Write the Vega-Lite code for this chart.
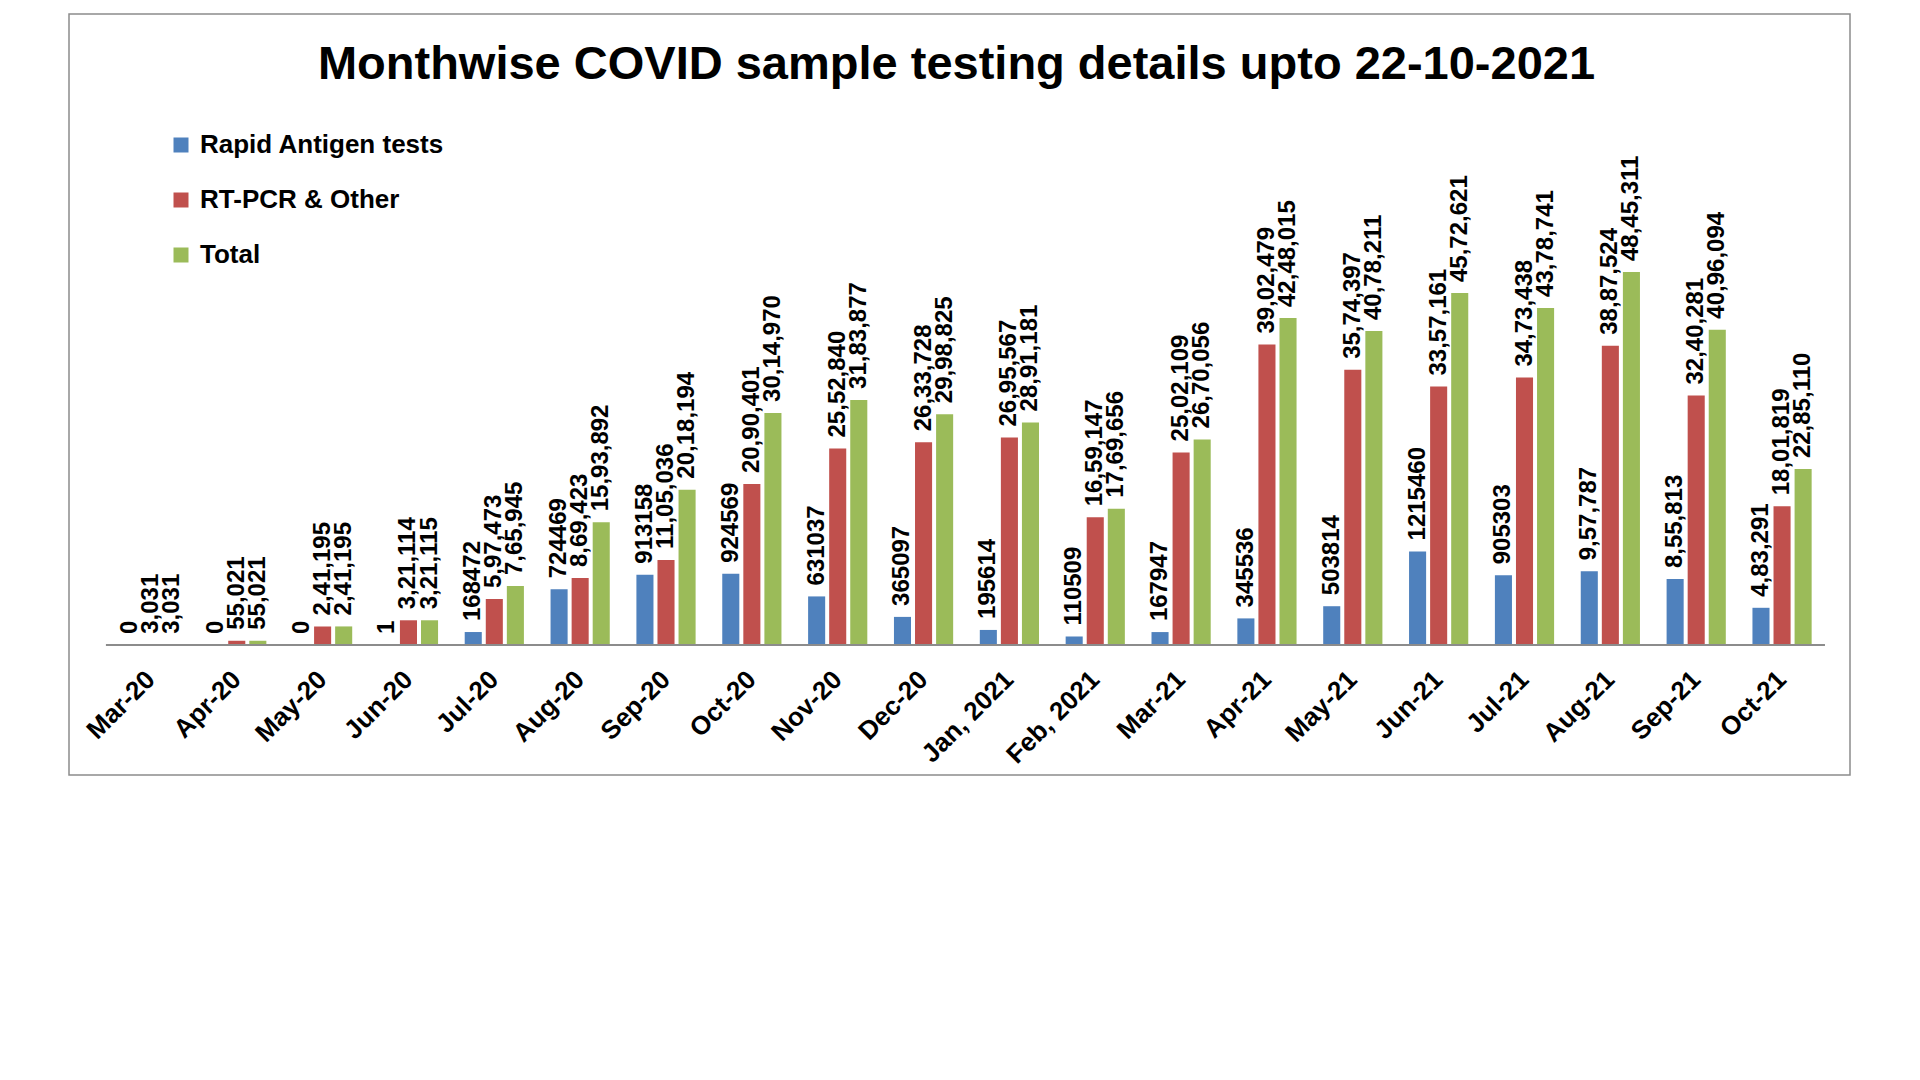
{
  "$schema": "https://vega.github.io/schema/vega-lite/v6.json",
  "width": 1781,
  "height": 761,
  "autosize": {"type": "none"},
  "padding": {"left": 69, "top": 14, "right": 70, "bottom": 305},
  "background": "white",
  "config": {"view": {"stroke": "#8c8c8c", "strokeWidth": 1.5}, "font": "Liberation Sans"},
  "title": {"text": "Monthwise COVID sample testing details upto 22-10-2021", "font": "Liberation Sans", "fontSize": 47, "fontWeight": "bold", "color": "#000000", "anchor": "middle", "frame": "group", "offset": -75, "dx": -3},
  "data": {"values": [
    {"month": "Mar-20", "series": "Rapid Antigen tests", "value": 0, "label": "0"},
    {"month": "Mar-20", "series": "RT-PCR & Other", "value": 3031, "label": "3,031"},
    {"month": "Mar-20", "series": "Total", "value": 3031, "label": "3,031"},
    {"month": "Apr-20", "series": "Rapid Antigen tests", "value": 0, "label": "0"},
    {"month": "Apr-20", "series": "RT-PCR & Other", "value": 55021, "label": "55,021"},
    {"month": "Apr-20", "series": "Total", "value": 55021, "label": "55,021"},
    {"month": "May-20", "series": "Rapid Antigen tests", "value": 0, "label": "0"},
    {"month": "May-20", "series": "RT-PCR & Other", "value": 241195, "label": "2,41,195"},
    {"month": "May-20", "series": "Total", "value": 241195, "label": "2,41,195"},
    {"month": "Jun-20", "series": "Rapid Antigen tests", "value": 1, "label": "1"},
    {"month": "Jun-20", "series": "RT-PCR & Other", "value": 321114, "label": "3,21,114"},
    {"month": "Jun-20", "series": "Total", "value": 321115, "label": "3,21,115"},
    {"month": "Jul-20", "series": "Rapid Antigen tests", "value": 168472, "label": "168472"},
    {"month": "Jul-20", "series": "RT-PCR & Other", "value": 597473, "label": "5,97,473"},
    {"month": "Jul-20", "series": "Total", "value": 765945, "label": "7,65,945"},
    {"month": "Aug-20", "series": "Rapid Antigen tests", "value": 724469, "label": "724469"},
    {"month": "Aug-20", "series": "RT-PCR & Other", "value": 869423, "label": "8,69,423"},
    {"month": "Aug-20", "series": "Total", "value": 1593892, "label": "15,93,892"},
    {"month": "Sep-20", "series": "Rapid Antigen tests", "value": 913158, "label": "913158"},
    {"month": "Sep-20", "series": "RT-PCR & Other", "value": 1105036, "label": "11,05,036"},
    {"month": "Sep-20", "series": "Total", "value": 2018194, "label": "20,18,194"},
    {"month": "Oct-20", "series": "Rapid Antigen tests", "value": 924569, "label": "924569"},
    {"month": "Oct-20", "series": "RT-PCR & Other", "value": 2090401, "label": "20,90,401"},
    {"month": "Oct-20", "series": "Total", "value": 3014970, "label": "30,14,970"},
    {"month": "Nov-20", "series": "Rapid Antigen tests", "value": 631037, "label": "631037"},
    {"month": "Nov-20", "series": "RT-PCR & Other", "value": 2552840, "label": "25,52,840"},
    {"month": "Nov-20", "series": "Total", "value": 3183877, "label": "31,83,877"},
    {"month": "Dec-20", "series": "Rapid Antigen tests", "value": 365097, "label": "365097"},
    {"month": "Dec-20", "series": "RT-PCR & Other", "value": 2633728, "label": "26,33,728"},
    {"month": "Dec-20", "series": "Total", "value": 2998825, "label": "29,98,825"},
    {"month": "Jan, 2021", "series": "Rapid Antigen tests", "value": 195614, "label": "195614"},
    {"month": "Jan, 2021", "series": "RT-PCR & Other", "value": 2695567, "label": "26,95,567"},
    {"month": "Jan, 2021", "series": "Total", "value": 2891181, "label": "28,91,181"},
    {"month": "Feb, 2021", "series": "Rapid Antigen tests", "value": 110509, "label": "110509"},
    {"month": "Feb, 2021", "series": "RT-PCR & Other", "value": 1659147, "label": "16,59,147"},
    {"month": "Feb, 2021", "series": "Total", "value": 1769656, "label": "17,69,656"},
    {"month": "Mar-21", "series": "Rapid Antigen tests", "value": 167947, "label": "167947"},
    {"month": "Mar-21", "series": "RT-PCR & Other", "value": 2502109, "label": "25,02,109"},
    {"month": "Mar-21", "series": "Total", "value": 2670056, "label": "26,70,056"},
    {"month": "Apr-21", "series": "Rapid Antigen tests", "value": 345536, "label": "345536"},
    {"month": "Apr-21", "series": "RT-PCR & Other", "value": 3902479, "label": "39,02,479"},
    {"month": "Apr-21", "series": "Total", "value": 4248015, "label": "42,48,015"},
    {"month": "May-21", "series": "Rapid Antigen tests", "value": 503814, "label": "503814"},
    {"month": "May-21", "series": "RT-PCR & Other", "value": 3574397, "label": "35,74,397"},
    {"month": "May-21", "series": "Total", "value": 4078211, "label": "40,78,211"},
    {"month": "Jun-21", "series": "Rapid Antigen tests", "value": 1215460, "label": "1215460"},
    {"month": "Jun-21", "series": "RT-PCR & Other", "value": 3357161, "label": "33,57,161"},
    {"month": "Jun-21", "series": "Total", "value": 4572621, "label": "45,72,621"},
    {"month": "Jul-21", "series": "Rapid Antigen tests", "value": 905303, "label": "905303"},
    {"month": "Jul-21", "series": "RT-PCR & Other", "value": 3473438, "label": "34,73,438"},
    {"month": "Jul-21", "series": "Total", "value": 4378741, "label": "43,78,741"},
    {"month": "Aug-21", "series": "Rapid Antigen tests", "value": 957787, "label": "9,57,787"},
    {"month": "Aug-21", "series": "RT-PCR & Other", "value": 3887524, "label": "38,87,524"},
    {"month": "Aug-21", "series": "Total", "value": 4845311, "label": "48,45,311"},
    {"month": "Sep-21", "series": "Rapid Antigen tests", "value": 855813, "label": "8,55,813"},
    {"month": "Sep-21", "series": "RT-PCR & Other", "value": 3240281, "label": "32,40,281"},
    {"month": "Sep-21", "series": "Total", "value": 4096094, "label": "40,96,094"},
    {"month": "Oct-21", "series": "Rapid Antigen tests", "value": 483291, "label": "4,83,291"},
    {"month": "Oct-21", "series": "RT-PCR & Other", "value": 1801819, "label": "18,01,819"},
    {"month": "Oct-21", "series": "Total", "value": 2285110, "label": "22,85,110"}
  ]},
  "encoding": {
    "x": {
      "field": "month", "type": "nominal", "sort": null,
      "scale": {
        "domain": ["Mar-20", "Apr-20", "May-20", "Jun-20", "Jul-20", "Aug-20", "Sep-20", "Oct-20", "Nov-20", "Dec-20", "Jan, 2021", "Feb, 2021", "Mar-21", "Apr-21", "May-21", "Jun-21", "Jul-21", "Aug-21", "Sep-21", "Oct-21"],
        "paddingInner": 0.3104, "paddingOuter": 0.528, "align": 0.577
      },
      "axis": {
        "orient": "bottom", "offset": -130, "domain": false, "ticks": false, "grid": false, "title": null,
        "labelAngle": -45, "labelAlign": "right", "labelBaseline": "middle", "labelPadding": 30,
        "labelFont": "Liberation Sans", "labelFontSize": 26, "labelFontWeight": "bold", "labelColor": "#000000"
      }
    },
    "y": {
      "field": "value", "type": "quantitative",
      "scale": {"domain": [-1688750, 8196900], "nice": false, "zero": false},
      "axis": null
    },
    "xOffset": {
      "field": "series", "type": "nominal",
      "sort": ["Rapid Antigen tests", "RT-PCR & Other", "Total"],
      "scale": {"paddingInner": 0.19, "paddingOuter": 0}
    }
  },
  "layer": [
    {
      "mark": {"type": "bar"},
      "encoding": {
        "y2": {"datum": 0},
        "color": {
          "field": "series", "type": "nominal",
          "scale": {"domain": ["Rapid Antigen tests", "RT-PCR & Other", "Total"], "range": ["#4F81BD", "#C0504D", "#9BBB59"]},
          "legend": {
            "orient": "none", "legendX": 99, "legendY": 118, "title": null,
            "symbolType": "square", "symbolSize": 225, "symbolStrokeWidth": 0,
            "labelFont": "Liberation Sans", "labelFontSize": 26, "labelFontWeight": "bold", "labelColor": "#000000",
            "labelLimit": 500, "rowPadding": 29, "labelOffset": 6
          }
        }
      }
    },
    {
      "mark": {"type": "text", "angle": 270, "align": "left", "baseline": "middle", "dx": 11, "font": "Liberation Sans", "fontSize": 24, "fontWeight": "bold", "color": "#000000"},
      "encoding": {"text": {"field": "label"}}
    },
    {
      "data": {"values": [{"base": 0}]},
      "mark": {"type": "rule", "color": "#8c8c8c", "strokeWidth": 2},
      "encoding": {
        "x": {"datum": "Mar-20", "bandPosition": -0.26},
        "x2": {"datum": "Oct-21", "bandPosition": 1.225},
        "y": {"field": "base", "type": "quantitative"},
        "xOffset": null
      }
    }
  ]
}
